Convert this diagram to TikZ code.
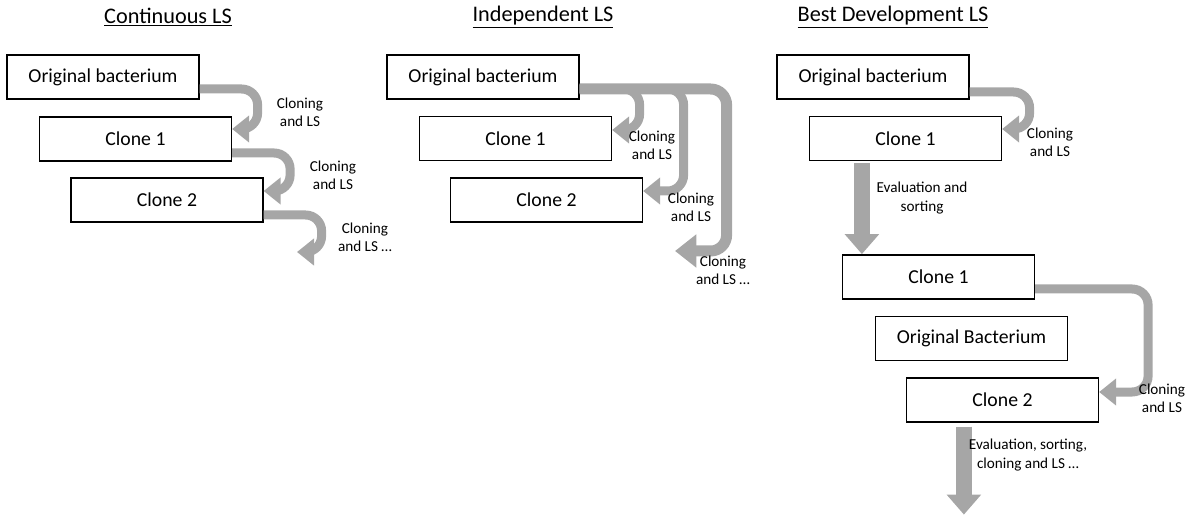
\documentclass[tikz,border=0pt]{standalone}
\usepackage{fontspec}
\setmainfont{Carlito}
\usepackage{tikz}
\usetikzlibrary{calc}
\usetikzlibrary{arrows.meta}
\definecolor{arrowgray}{RGB}{166,166,166}
\tikzstyle{box}=[draw, line width=0.9pt, minimum width=144pt, minimum height=33pt, inner sep=0pt, font=\fontsize{14.8}{17}\selectfont]
\tikzstyle{cloning}=[draw=arrowgray, line width=6.75pt, rounded corners=12pt, -{Triangle[length=12.75pt,width=19.5pt]}]
\tikzstyle{bigcloning}=[cloning, line width=8.25pt, -{Triangle[length=16pt,width=24pt]}]
\tikzstyle{evalarrow}=[draw=arrowgray, line width=12pt, -{Triangle[length=15pt,width=25pt]}]
\tikzstyle{note}=[align=center, inner sep=0pt, font=\fontsize{11.4}{13.7}\selectfont]
\tikzstyle{heading}=[inner sep=0pt, font=\fontsize{16.7}{20}\selectfont]

\begin{document}
\begin{tikzpicture}
        [x=0.75pt,y=-0.75pt]
            \useasboundingbox (0,0) rectangle (1191,516);
            % continuous
            \node [heading] (titleA) at (168,17) {\underline{Continuous LS}};
            \node [box] (ob1) at (103,77) {Original bacterium};
            \node [box] (c11) at (135.5,139) {Clone 1};
            \node [box] (c12) at (167,200) {Clone 2};
            \coordinate (next1) at (297,252);
            \draw [cloning] ($(ob1.east)+(0,12)$) -- ++(58,0) -- ++(0,40) -- ($(c11.east)+(0,-10)$);
            \draw [cloning] ($(c11.east)+(0,14)$) -- ++(58,0) -- ++(0,38) -- ($(c12.east)+(0,-9)$);
            \draw [cloning] ($(c12.east)+(0,15)$) -- ++(58,0) -- ++(0,37) -- (next1);
            \node [note] (l11) at (300,112) {Cloning\\and LS};
            \node [note] (l12) at (333,175) {Cloning\\and LS};
            \node [note] (l13) at (365,237) {Cloning\\and LS \dots};
            % independent
            \node [heading] (titleB) at (543,17) {\underline{Independent LS}};
            \node [box] (ob2) at (483,77) {Original bacterium};
            \node [box] (c21) at (515.5,138.5) {Clone 1};
            \node [box] (c22) at (546.5,200) {Clone 2};
            \coordinate (next2) at (675,251);
            \draw [bigcloning] ($(ob2.east)+(0,12)$) -- ++(147,0) -- ++(0,162) -- (next2);
            \draw [cloning] ($(ob2.east)+(0,12)$) -- ++(104,0) -- ++(0,102) -- ($(c22.east)+(0,-9)$);
            \draw [cloning] ($(ob2.east)+(0,12)$) -- ++(60,0) -- ++(0,41) -- ($(c21.east)+(0,-8.5)$);
            \node [note] (l21) at (652,145) {Cloning\\and LS};
            \node [note] (l22) at (691,207) {Cloning\\and LS};
            \node [note] (l23) at (723,270) {Cloning\\and LS \dots};
            % best development
            \node [heading] (titleC) at (893,17) {\underline{Best Development LS}};
            \node [box] (ob3) at (873,77) {Original bacterium};
            \node [box] (c31) at (905.5,138.5) {Clone 1};
            \node [box] (c32) at (938.5,277) {Clone 1};
            \node [box] (obb) at (971.5,338.5) {Original Bacterium};
            \node [box] (c33) at (1002.5,400) {Clone 2};
            \draw [cloning] ($(ob3.east)+(0,15)$) -- ++(60,0) -- ++(0,37) -- ($(c31.east)+(0,-9.5)$);
            \draw [cloning] ($(c32.east)+(0,12)$) -- ++(113,0) -- ++(0,103) -- ($(c33.east)+(0,-8)$);
            \draw [evalarrow] ($(c31.south west)+(53,2)$) -- ++(0,91);
            \draw [evalarrow] ($(c33.south west)+(58,4)$) -- ++(0,88);
            \node [note] (l31) at (1050,142) {Cloning\\and LS};
            \node [note] (l32) at (1162,398) {Cloning\\and LS};
            \node [note] (l33) at (922,198) {Evaluation and\\sorting};
            \node [note] (l34) at (1028,455) {Evaluation, sorting,\\cloning and LS \dots};
        \end{tikzpicture}
\end{document}
